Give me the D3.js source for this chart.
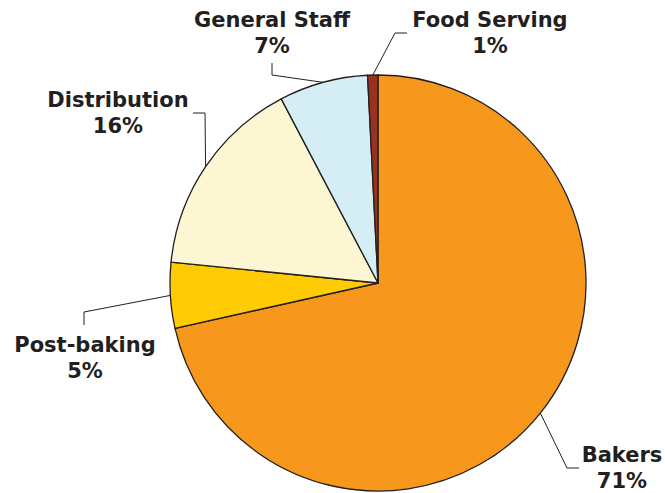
<!DOCTYPE html>
<html>
<head>
<meta charset="utf-8">
<script src="https://cdn.jsdelivr.net/npm/d3@7"></script>
<style>
  body { margin: 0; background: #fff; }
  text { font-family: "DejaVu Sans", Verdana, sans-serif; font-weight: bold; fill: #231F20; }
</style>
</head>
<body>
<div id="chart"></div>
<script>
// slice data, clockwise from 12 o'clock
const categories = ['Bakers', 'Post-baking', 'Distribution', 'General Staff', 'Food Serving'];
const values = [71.5, 5.1, 15.7, 6.9, 0.8];
const pctLabels = ['71%', '5%', '16%', '7%', '1%'];
const colors = ['#F7981D', '#FFCB05', '#FCF7D2', '#D5EDF4', '#97321F'];

const width = 665;
const height = 493;
const cx = 378, cy = 283;
const radius = 208;

// label layout: elbow point, end point, text centre and first baseline
const labelLayout = [
  {elbow: [567, 468], end: [579, 468], tx: 622, ty: 462},
  {elbow: [84, 312], end: [84, 325], tx: 85, ty: 352},
  {elbow: [205, 113], end: [193, 113], tx: 118, ty: 107},
  {elbow: [272, 75], end: [272, 63], tx: 272, ty: 27},
  {elbow: [395, 33], end: [407, 33], tx: 490, ty: 27},
];

const data = categories.map((c, i) => ({name: c, value: values[i], pct: pctLabels[i], color: colors[i], layout: labelLayout[i]}));

const svg = d3.select('#chart')
  .append('svg')
  .attr('width', width)
  .attr('height', height);

const g = svg.append('g')
  .attr('transform', 'translate(' + cx + ',' + cy + ')');

const pie = d3.pie()
  .value(d => d.value)
  .sort(null);

const arc = d3.arc()
  .innerRadius(0)
  .outerRadius(radius);

const arcs = pie(data);

g.selectAll('path.slice')
  .data(arcs)
  .enter()
  .append('path')
  .attr('class', 'slice')
  .attr('d', arc)
  .attr('fill', d => d.data.color)
  .attr('stroke', '#231F20')
  .attr('stroke-width', 1.3)
  .attr('stroke-linejoin', 'round');

// leader lines start on the rim at the slice's middle angle
svg.selectAll('polyline.leader')
  .data(arcs)
  .enter()
  .append('polyline')
  .attr('class', 'leader')
  .attr('fill', 'none')
  .attr('stroke', '#231F20')
  .attr('stroke-width', 1)
  .attr('points', d => {
    const a = (d.startAngle + d.endAngle) / 2;
    const sx = cx + radius * Math.sin(a);
    const sy = cy - radius * Math.cos(a);
    const l = d.data.layout;
    return [[sx, sy], l.elbow, l.end].map(p => p.join(',')).join(' ');
  });

const labels = svg.selectAll('text.label')
  .data(arcs)
  .enter()
  .append('text')
  .attr('class', 'label')
  .attr('text-anchor', 'middle')
  .attr('font-size', 21);

labels.append('tspan')
  .attr('x', d => d.data.layout.tx)
  .attr('y', d => d.data.layout.ty)
  .text(d => d.data.name);

labels.append('tspan')
  .attr('x', d => d.data.layout.tx)
  .attr('y', d => d.data.layout.ty + 25.5)
  .text(d => d.data.pct);
</script>
</body>
</html>
